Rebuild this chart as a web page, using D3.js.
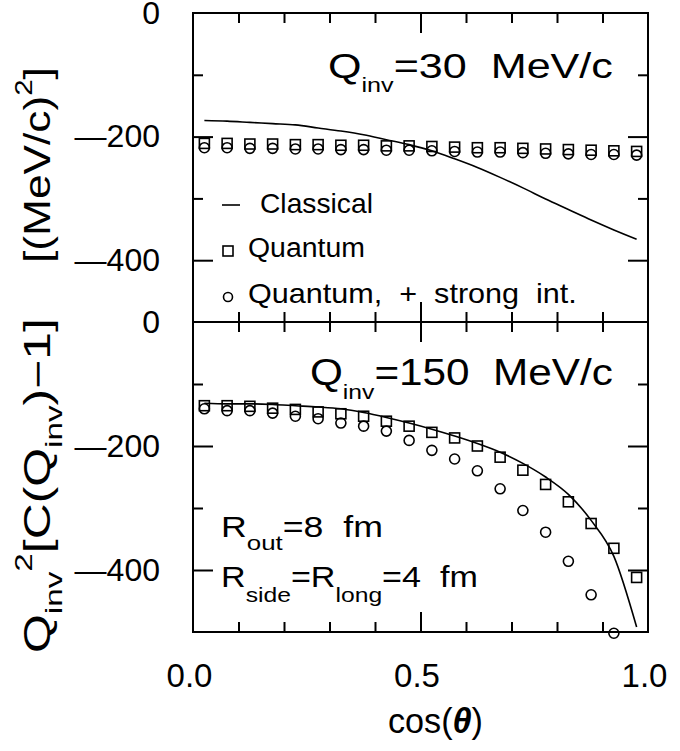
<!DOCTYPE html>
<html>
<head>
<meta charset="utf-8">
<script src="https://cdn.jsdelivr.net/npm/d3@7"></script>
<style>
body { margin: 0; background: #fff; }
svg text { font-family: "Liberation Sans", Arial, sans-serif; fill: #000; white-space: pre; }
</style>
</head>
<body>
<div id="chart"></div>
<script>
// cos(theta) bin centres
var cosTheta = [0.025, 0.075, 0.125, 0.175, 0.225, 0.275, 0.325, 0.375, 0.425, 0.475,
                0.525, 0.575, 0.625, 0.675, 0.725, 0.775, 0.825, 0.875, 0.925, 0.975];

// Q_inv = 30 MeV/c
var classical30 = [-174, -175, -177, -179, -181, -186, -191, -197, -205, -213,
                   -223, -236, -250, -266, -283, -301, -318, -335, -351, -366];
var quantum30 = [-211, -211, -212, -212, -213, -213, -214, -214, -215, -215,
                 -216, -217, -218, -218, -219, -220, -221, -222, -223, -224];
var strong30 = [-218, -218, -219, -219, -220, -220, -221, -221, -222, -222,
                -223, -224, -225, -225, -226, -227, -228, -229, -229, -230];

// Q_inv = 150 MeV/c
var classical150 = [-131, -132, -132, -133, -135, -137, -140, -146, -154, -163,
                    -173, -184, -196, -210, -228, -250, -278, -320, -378, -492];
var quantum150 = [-135, -135, -136, -139, -141, -145, -148, -152, -160, -168,
                  -178, -187, -200, -218, -239, -262, -290, -325, -365, -412];
var strong150 = [-140, -143, -143, -147, -152, -156, -163, -168, -176, -191,
                 -207, -221, -240, -269, -304, -339, -386, -440, -502, null];

var xTicks = [0, 0.5, 1];
var yTicks = [0, -200, -400];

var width = 680, height = 751;
var left = 193, right = 648;

var svg = d3.select("#chart").append("svg")
    .attr("width", width)
    .attr("height", height);

var x = d3.scaleLinear().domain([0, 1]).range([left, right]);

var xMinor = d3.range(1, 10).map(function(i) { return i / 10; }).filter(function(v) { return v !== 0.5; });

var panels = [
    {top: 13, bottom: 322, cls: classical30, qu: quantum30, st: strong30,
     title: [["Q"], ["inv", "sub"], ["=30  MeV/c"]], titleX: [328, 613], titleY: 78},
    {top: 322, bottom: 632, cls: classical150, qu: quantum150, st: strong150,
     title: [["Q"], ["inv", "sub"], ["=150  MeV/c"]], titleX: [310, 613], titleY: 385}
];

// text with sub/superscripts
function richText(g, parts, size, small, drop, rise) {
    var t = g.append("text").style("font-size", size + "px");
    var shift = 0;
    parts.forEach(function(p) {
        var target = p[1] === "sub" ? drop : (p[1] === "sup" ? -rise : 0);
        t.append("tspan")
            .attr("dy", target - shift)
            .style("font-size", p[1] ? small + "px" : null)
            .text(p[0]);
        shift = target;
    });
    return t;
}

// the original lettering is wider than Arial: stretch a text horizontally to a width
function fitText(t, w) {
    var natural = t.node().getComputedTextLength();
    var x0 = +t.attr("x") || 0;
    var s = w / natural;
    t.attr("transform", "translate(" + x0 + ",0) scale(" + s + ",1) translate(" + (-x0) + ",0)");
}

function noDomain(g) { g.select(".domain").remove(); }

function tickFmt(d) { return d === 0 ? "0" : "\u2014" + Math.abs(d); }

panels.forEach(function(p, pi) {
    var y = d3.scaleLinear().domain([-500, 0]).range([p.bottom, p.top]);
    var g = svg.append("g");

    // frame
    g.append("rect")
        .attr("x", left).attr("y", p.top)
        .attr("width", right - left).attr("height", p.bottom - p.top)
        .attr("fill", "none").attr("stroke", "#000").attr("stroke-width", 2);

    // inward ticks on all four sides
    var axes = [
        [d3.axisLeft(y).tickValues([-100, -300]).tickSize(-10), "translate(" + left + ",0)"],
        [d3.axisLeft(y).tickValues([-200, -400]).tickSize(-20), "translate(" + left + ",0)"],
        [d3.axisRight(y).tickValues([-100, -300]).tickSize(-10), "translate(" + right + ",0)"],
        [d3.axisRight(y).tickValues([-200, -400]).tickSize(-20), "translate(" + right + ",0)"],
        [d3.axisTop(x).tickValues(xMinor).tickSize(-10), "translate(0," + p.top + ")"],
        [d3.axisTop(x).tickValues([0.5]).tickSize(-20), "translate(0," + p.top + ")"],
        [d3.axisBottom(x).tickValues(xMinor).tickSize(-10), "translate(0," + p.bottom + ")"],
        [d3.axisBottom(x).tickValues([0.5]).tickSize(-20), "translate(0," + p.bottom + ")"]
    ];
    axes.forEach(function(a) {
        g.append("g").attr("transform", a[1])
            .call(a[0].tickFormat("").tickSizeOuter(0))
            .call(noDomain)
            .selectAll("line").attr("stroke", "#000").attr("stroke-width", 2);
    });

    // y tick labels
    g.append("g").attr("transform", "translate(" + left + ",0)")
        .call(d3.axisLeft(y).tickValues(yTicks).tickSize(0).tickPadding(33).tickFormat(tickFmt))
        .call(noDomain)
        .selectAll("text")
        .style("font-family", "'Liberation Sans', Arial, sans-serif")
        .style("font-size", "32px");

    // classical curve
    var line = d3.line()
        .x(function(d, i) { return x(cosTheta[i]); })
        .y(function(d) { return y(d); })
        .curve(d3.curveMonotoneX);
    g.append("path").datum(p.cls)
        .attr("d", line)
        .attr("fill", "none").attr("stroke", "#000").attr("stroke-width", 1.6);

    // quantum (squares)
    g.selectAll(".sq").data(p.qu).enter().append("rect")
        .attr("class", "sq")
        .attr("x", function(d, i) { return x(cosTheta[i]) - 5; })
        .attr("y", function(d) { return y(d) - 5; })
        .attr("width", 10).attr("height", 10)
        .attr("fill", "none").attr("stroke", "#000").attr("stroke-width", 1.6);

    // quantum + strong interaction (circles)
    g.selectAll(".ci").data(p.st.map(function(v, i) { return [cosTheta[i], v]; })
            .filter(function(d) { return d[1] !== null; }))
        .enter().append("circle")
        .attr("class", "ci")
        .attr("cx", function(d) { return x(d[0]); })
        .attr("cy", function(d) { return y(d[1]); })
        .attr("r", 5)
        .attr("fill", "none").attr("stroke", "#000").attr("stroke-width", 1.6);

    // panel title
    var t = richText(g, p.title, 36, 21, 14, 0)
        .attr("x", p.titleX[0]).attr("y", p.titleY);
    fitText(t, p.titleX[1] - p.titleX[0]);
});

// x tick labels
svg.append("g").attr("transform", "translate(0," + panels[1].bottom + ")")
    .call(d3.axisBottom(x).tickValues(xTicks).tickSize(0).tickFormat(d3.format(".1f")))
    .call(noDomain)
    .selectAll("text")
    .attr("y", 55).attr("dy", 0).attr("dx", -4)
    .style("font-family", "'Liberation Sans', Arial, sans-serif")
    .style("font-size", "33px");

// x axis title
var xt = svg.append("text").attr("x", 388).attr("y", 733).style("font-size", "35px");
xt.append("tspan").text("cos(");
xt.append("tspan").style("font-style", "italic").style("font-weight", "bold").text("\u03b8");
xt.append("tspan").text(")");
fitText(xt, 95);

// legend (top panel)
var leg = svg.append("g");
leg.append("line").attr("x1", 222).attr("x2", 240).attr("y1", 205).attr("y2", 205)
    .attr("stroke", "#000").attr("stroke-width", 1.6);
var l1 = leg.append("text").attr("x", 260).attr("y", 213).style("font-size", "27px").text("Classical");
fitText(l1, 113);
leg.append("rect").attr("x", 223).attr("y", 246).attr("width", 10).attr("height", 10)
    .attr("fill", "none").attr("stroke", "#000").attr("stroke-width", 1.6);
var l2 = leg.append("text").attr("x", 248).attr("y", 257).style("font-size", "28px").text("Quantum");
fitText(l2, 117);
leg.append("circle").attr("cx", 228).attr("cy", 297).attr("r", 4.5)
    .attr("fill", "none").attr("stroke", "#000").attr("stroke-width", 1.6);
var l3 = leg.append("text").attr("x", 248).attr("y", 303).style("font-size", "28px")
    .text("Quantum,  +  strong  int.");
fitText(l3, 329);

// radii (bottom panel)
var r1 = richText(svg, [["R"], ["out", "sub"], ["=8  fm"]], 29, 21, 13, 0)
    .attr("x", 221).attr("y", 537);
fitText(r1, 162);
var r2 = richText(svg, [["R"], ["side", "sub"], ["=R"], ["long", "sub"], ["=4  fm"]], 29, 21, 15, 0)
    .attr("x", 221).attr("y", 587);
fitText(r2, 257);

// y axis title, two pieces reading upward
var ya = svg.append("g").attr("transform", "translate(50,653) rotate(-90)");
var yt1 = richText(ya, [["Q"], ["inv", "sub"], ["2", "sup"], ["[C(Q"], ["inv", "sub"], [")\u22121]"]], 36, 24, 12, 18);
fitText(yt1, 335);
var yb = svg.append("g").attr("transform", "translate(50,263) rotate(-90)");
var yt2 = richText(yb, [["[(MeV/c)"], ["2", "sup"], ["]"]], 36, 24, 0, 18);
fitText(yt2, 196);
</script>
</body>
</html>
